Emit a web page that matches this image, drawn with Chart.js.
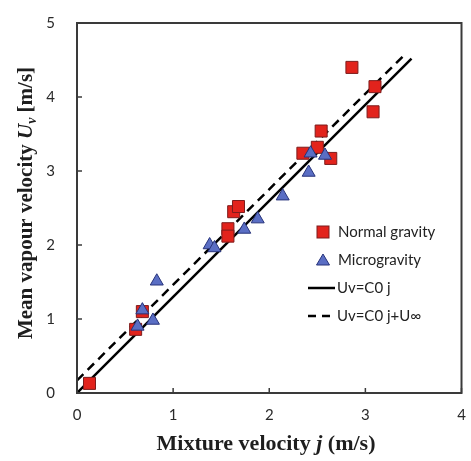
<!DOCTYPE html>
<html>
<head>
<meta charset="utf-8">
<script src="https://cdn.jsdelivr.net/npm/chart.js@4.4.1/dist/chart.umd.min.js"></script>
<style>
  html, body { margin: 0; padding: 0; background: #fff; }
  #wrap { width: 471px; height: 461px; position: relative; }
</style>
</head>
<body>
<div id="wrap"><canvas id="grafico" width="471" height="461"></canvas></div>
<script>
// valores
const normalX = [0.13, 0.61, 0.68, 1.57, 1.57, 1.63, 1.68, 2.35, 2.50, 2.54, 2.64, 2.86, 3.10, 3.08];
const normalY = [0.13, 0.86, 1.10, 2.22, 2.12, 2.45, 2.52, 3.24, 3.32, 3.54, 3.17, 4.40, 4.14, 3.80];
const microX = [0.63, 0.68, 0.79, 0.83, 1.38, 1.43, 1.74, 1.88, 2.14, 2.41, 2.43, 2.58];
const microY = [0.90, 1.12, 0.98, 1.51, 2.00, 1.96, 2.21, 2.35, 2.66, 2.98, 3.24, 3.21];
const solidX = [0, 3.48];
const solidY = [0, 4.52];
const dashX = [0, 3.43];
const dashY = [0.17, 4.60];
const xTicks = [0, 1, 2, 3, 4];
const yTicks = [0, 1, 2, 3, 4, 5];
const legendLabels = ['Normal gravity', 'Microgravity', 'Uv=C0 j', 'Uv=C0 j+U\u221e'];

function toPoints(xs, ys) {
    return xs.map(function (x, i) { return { x: x, y: ys[i] }; });
}

const redFill = '#e2231c', redEdge = '#7d1c1c';
const blueFill = '#5a6ec4', blueEdge = '#27337a';

// moldura, marcas internas, títulos e legenda
const extras = {
    id: 'extras',
    afterDraw: function (chart) {
        const ctx = chart.ctx;
        const a = chart.chartArea;
        const xs = chart.scales.x, ys = chart.scales.y;
        ctx.save();
        ctx.strokeStyle = '#3a3a3a';
        ctx.lineWidth = 1.5;
        xTicks.forEach(function (v) {
            const px = xs.getPixelForValue(v);
            ctx.beginPath(); ctx.moveTo(px, a.bottom); ctx.lineTo(px, a.bottom - 5); ctx.stroke();
        });
        yTicks.forEach(function (v) {
            const py = ys.getPixelForValue(v);
            ctx.beginPath(); ctx.moveTo(a.left, py); ctx.lineTo(a.left + 5, py); ctx.stroke();
        });
        ctx.lineWidth = 2;
        ctx.strokeRect(a.left, a.top, a.right - a.left, a.bottom - a.top);

        // legenda
        const lx = 323, tx = 338;
        const rows = [232, 260, 288, 316];
        ctx.fillStyle = redFill; ctx.strokeStyle = redEdge; ctx.lineWidth = 1;
        ctx.fillRect(lx - 6, rows[0] - 6, 12, 12);
        ctx.strokeRect(lx - 6, rows[0] - 6, 12, 12);
        ctx.fillStyle = blueFill; ctx.strokeStyle = blueEdge;
        ctx.beginPath();
        ctx.moveTo(lx, rows[1] - 6); ctx.lineTo(lx + 6.5, rows[1] + 5); ctx.lineTo(lx - 6.5, rows[1] + 5);
        ctx.closePath(); ctx.fill(); ctx.stroke();
        ctx.strokeStyle = '#000'; ctx.lineWidth = 2.5;
        ctx.beginPath(); ctx.moveTo(308, rows[2]); ctx.lineTo(335, rows[2]); ctx.stroke();
        ctx.setLineDash([8, 6]);
        ctx.beginPath(); ctx.moveTo(308, rows[3]); ctx.lineTo(335, rows[3]); ctx.stroke();
        ctx.setLineDash([]);
        ctx.fillStyle = '#222';
        ctx.font = '15px Lato';
        ctx.textBaseline = 'middle';
        ctx.textAlign = 'left';
        ctx.fillText(legendLabels[0], tx, rows[0]);
        ctx.fillText(legendLabels[1], tx, rows[1]);
        ctx.fillText(legendLabels[2], 337, rows[2]);
        ctx.fillText(legendLabels[3], 337, rows[3]);

        // títulos dos eixos
        function drawParts(parts, cx, cy) {
            let total = 0;
            parts.forEach(function (p) { ctx.font = p.f; total += ctx.measureText(p.t).width; });
            let x = cx - total / 2;
            parts.forEach(function (p) {
                ctx.font = p.f;
                ctx.fillText(p.t, x, cy + (p.dy || 0));
                x += ctx.measureText(p.t).width;
            });
        }
        ctx.fillStyle = '#1e1e1e';
        ctx.textBaseline = 'middle';
        drawParts([
            { t: 'Mixture velocity ', f: 'bold 22px "Liberation Serif"' },
            { t: 'j', f: 'italic bold 22px "Liberation Serif"' },
            { t: ' (m/s)', f: 'bold 22px "Liberation Serif"' }
        ], 266, 444);
        ctx.translate(27, 203);
        ctx.rotate(-Math.PI / 2);
        drawParts([
            { t: 'Mean vapour velocity ', f: 'bold 21px "Liberation Serif"' },
            { t: 'U', f: 'italic bold 21px "Liberation Serif"' },
            { t: 'v', f: 'italic bold 14px "Liberation Serif"', dy: 5 },
            { t: ' [m/s]', f: 'bold 21px "Liberation Serif"' }
        ], 0, 0);
        ctx.restore();
    }
};

var ctx = document.getElementById('grafico').getContext('2d');
var grafico = new Chart(ctx, {
    type: 'scatter',
    data: {
        datasets: [{
            label: legendLabels[1],
            data: toPoints(microX, microY),
            pointStyle: 'triangle',
            pointRadius: 7.5,
            pointHoverRadius: 7.5,
            backgroundColor: blueFill,
            borderColor: blueEdge,
            borderWidth: 1,
            order: 0
        }, {
            label: legendLabels[0],
            data: toPoints(normalX, normalY),
            pointStyle: 'rect',
            pointRadius: 8.5,
            pointHoverRadius: 8.5,
            backgroundColor: redFill,
            borderColor: redEdge,
            borderWidth: 1,
            order: 1
        }, {
            label: legendLabels[2],
            data: toPoints(solidX, solidY),
            showLine: true,
            pointRadius: 0,
            borderColor: '#000',
            borderWidth: 2.5,
            order: 2
        }, {
            label: legendLabels[3],
            data: toPoints(dashX, dashY),
            showLine: true,
            pointRadius: 0,
            borderColor: '#000',
            borderWidth: 2.5,
            borderDash: [9, 6],
            order: 3
        }]
    },
    options: {
        responsive: false,
        animation: false,
        layout: { padding: { top: 6, right: 8, left: 0, bottom: 0 } },
        plugins: { legend: { display: false }, tooltip: { enabled: false } },
        scales: {
            x: {
                type: 'linear', min: 0, max: 4,
                afterFit: function (s) { s.height = 68; },
                afterBuildTicks: function (s) { s.ticks = xTicks.map(function (v) { return { value: v }; }); },
                grid: { display: false },
                border: { display: false },
                ticks: { padding: 5, color: '#2a2a2a', font: { family: 'Lato', size: 15 } }
            },
            y: {
                type: 'linear', min: 0, max: 5,
                afterFit: function (s) { s.width = 77; },
                afterBuildTicks: function (s) { s.ticks = yTicks.map(function (v) { return { value: v }; }); },
                grid: { display: false },
                border: { display: false },
                ticks: { padding: 14, color: '#2a2a2a', font: { family: 'Lato', size: 15 } }
            }
        }
    },
    plugins: [extras]
});
</script>
</body>
</html>
